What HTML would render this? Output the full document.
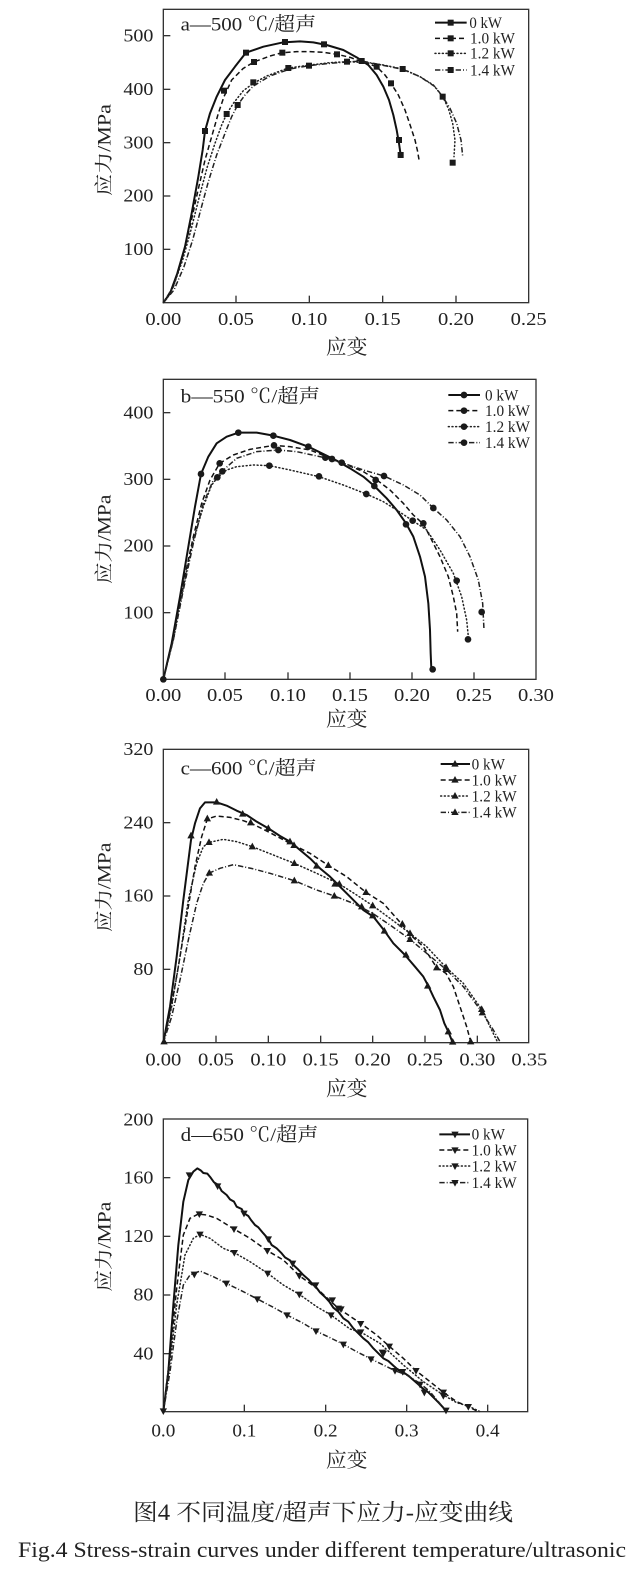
<!DOCTYPE html>
<html><head><meta charset="utf-8"><style>
html,body{margin:0;padding:0;background:#fff;}
svg{display:block;}
text{fill:#222;font-family:"Liberation Serif","Noto Serif CJK SC",serif;}
.ax{fill:none;stroke:#333;stroke-width:4;}
.tk{stroke:#333;stroke-width:4;}
.s0{fill:none;stroke:#111;stroke-width:6;stroke-linejoin:round;}
.s1{fill:none;stroke:#111;stroke-width:4.5;stroke-dasharray:15 9;stroke-linejoin:round;}
.s2{fill:none;stroke:#222;stroke-width:4.5;stroke-dasharray:3 8;stroke-linecap:round;}
.s3{fill:none;stroke:#222;stroke-width:4.5;stroke-dasharray:16 6 3 6;}
.tl{font-size:54px;}
.lg{font-size:48px;}
.tt{font-size:58px;}
.yl{font-size:56px;}
.xl{font-size:62px;}
</style></head><body>
<svg width="643" height="1571" viewBox="0 0 643 1571" xmlns="http://www.w3.org/2000/svg">
<defs>
<rect id="sq" x="-9" y="-9" width="18" height="18" fill="#1a1a1a"/>
<circle id="ci" cx="0" cy="0" r="10" fill="#1a1a1a"/>
<path id="tu" d="M0,-12 L11,8 L-11,8Z" fill="#1a1a1a"/>
<path id="td" d="M0,12 L11,-8 L-11,-8Z" fill="#1a1a1a"/>
</defs>
<rect width="643" height="1571" fill="#fff"/>

<!-- Panel a -->
<g transform="translate(90,0) scale(0.333333)">
<rect class="ax" x="220" y="28" width="1096" height="880"/>
<g class="tk">
<line x1="220" y1="107" x2="241" y2="107"/><line x1="220" y1="268" x2="241" y2="268"/><line x1="220" y1="428" x2="241" y2="428"/><line x1="220" y1="588" x2="241" y2="588"/><line x1="220" y1="748" x2="241" y2="748"/>
<line x1="438" y1="908" x2="438" y2="887"/><line x1="658" y1="908" x2="658" y2="887"/><line x1="878" y1="908" x2="878" y2="887"/><line x1="1098" y1="908" x2="1098" y2="887"/>
</g>
<g class="tl" text-anchor="end">
<text x="190" y="124" textLength="90" lengthAdjust="spacingAndGlyphs">500</text><text x="190" y="285" textLength="90" lengthAdjust="spacingAndGlyphs">400</text><text x="190" y="445" textLength="90" lengthAdjust="spacingAndGlyphs">300</text><text x="190" y="605" textLength="90" lengthAdjust="spacingAndGlyphs">200</text><text x="190" y="765" textLength="90" lengthAdjust="spacingAndGlyphs">100</text>
</g>
<g class="tl" text-anchor="middle">
<text x="220" y="975" textLength="108" lengthAdjust="spacingAndGlyphs">0.00</text><text x="438" y="975" textLength="108" lengthAdjust="spacingAndGlyphs">0.05</text><text x="658" y="975" textLength="108" lengthAdjust="spacingAndGlyphs">0.10</text><text x="878" y="975" textLength="108" lengthAdjust="spacingAndGlyphs">0.15</text><text x="1098" y="975" textLength="108" lengthAdjust="spacingAndGlyphs">0.20</text><text x="1316" y="975" textLength="108" lengthAdjust="spacingAndGlyphs">0.25</text>
</g>
<text class="xl" x="770" y="1062" text-anchor="middle" textLength="125" lengthAdjust="spacingAndGlyphs">应变</text>
<text class="yl" x="0" y="0" text-anchor="middle" textLength="275" lengthAdjust="spacingAndGlyphs" transform="translate(62,450) rotate(-90)">应力/MPa</text>
<text class="tt" x="272" y="92" textLength="406" lengthAdjust="spacingAndGlyphs">a—500 ℃/超声</text>
<polyline class="s0" points="220,908 240,880 262,820 285,740 305,640 325,530 338,450 345,393 360,340 380,290 405,240 435,200 468,158 520,140 580,127 630,124 670,127 710,135 760,150 800,172 835,195 860,225 880,260 897,300 910,345 920,390 927,430 932,465"/>
<polyline class="s1" points="220,908 250,860 275,780 300,680 322,580 345,480 365,410 385,340 402,290 425,240 460,205 492,186 540,168 577,158 620,155 660,155 700,157 741,163 780,172 815,185 860,200 885,225 903,250 925,285 945,330 962,380 975,420 983,455 988,485"/>
<polyline class="s2" points="220,908 250,860 278,780 303,690 328,590 352,500 375,430 395,375 410,342 430,310 460,272 490,250 530,228 595,204 660,195 720,188 771,185 830,188 880,195 938,207 990,230 1030,255 1058,290 1075,325 1088,370 1095,420 1092,470"/>
<polyline class="s3" points="220,908 252,870 282,800 308,720 332,630 355,545 380,465 405,400 425,350 443,315 465,285 490,258 540,228 600,207 657,197 720,190 771,186 815,183 860,192 938,208 990,230 1035,260 1058,290 1080,325 1100,370 1113,420 1118,468"/>
<g>
<use href="#sq" x="345" y="393"/><use href="#sq" x="402" y="272"/><use href="#sq" x="410" y="342"/><use href="#sq" x="443" y="315"/><use href="#sq" x="468" y="158"/><use href="#sq" x="490" y="247"/><use href="#sq" x="492" y="186"/><use href="#sq" x="577" y="158"/><use href="#sq" x="585" y="126"/><use href="#sq" x="595" y="204"/><use href="#sq" x="657" y="197"/><use href="#sq" x="702" y="133"/><use href="#sq" x="741" y="163"/><use href="#sq" x="771" y="185"/><use href="#sq" x="815" y="183"/><use href="#sq" x="860" y="200"/><use href="#sq" x="903" y="250"/><use href="#sq" x="927" y="420"/><use href="#sq" x="932" y="465"/><use href="#sq" x="938" y="207"/><use href="#sq" x="1058" y="290"/><use href="#sq" x="1088" y="488"/>
</g>
<line class="s0" x1="1035" y1="68" x2="1130" y2="68"/><use href="#sq" x="1082" y="68"/>
<line class="s1" x1="1035" y1="115" x2="1130" y2="115"/><use href="#sq" x="1082" y="115"/>
<line class="s2" x1="1035" y1="160" x2="1130" y2="160"/><use href="#sq" x="1082" y="160"/>
<line class="s3" x1="1035" y1="210" x2="1130" y2="210"/><use href="#sq" x="1082" y="210"/>
<g class="lg">
<text x="1138" y="84" textLength="98" lengthAdjust="spacingAndGlyphs">0 kW</text><text x="1140" y="131" textLength="135" lengthAdjust="spacingAndGlyphs">1.0 kW</text><text x="1140" y="176" textLength="135" lengthAdjust="spacingAndGlyphs">1.2 kW</text><text x="1140" y="226" textLength="135" lengthAdjust="spacingAndGlyphs">1.4 kW</text>
</g>
</g>

<!-- Panel b -->
<g transform="translate(90,370) scale(0.333333)">
<rect class="ax" x="220" y="28" width="1118" height="900"/>
<g class="tk">
<line x1="220" y1="128" x2="241" y2="128"/><line x1="220" y1="328" x2="241" y2="328"/><line x1="220" y1="528" x2="241" y2="528"/><line x1="220" y1="728" x2="241" y2="728"/>
<line x1="405" y1="928" x2="405" y2="907"/><line x1="594" y1="928" x2="594" y2="907"/><line x1="780" y1="928" x2="780" y2="907"/><line x1="966" y1="928" x2="966" y2="907"/><line x1="1152" y1="928" x2="1152" y2="907"/>
</g>
<g class="tl" text-anchor="end">
<text x="190" y="145" textLength="90" lengthAdjust="spacingAndGlyphs">400</text><text x="190" y="345" textLength="90" lengthAdjust="spacingAndGlyphs">300</text><text x="190" y="545" textLength="90" lengthAdjust="spacingAndGlyphs">200</text><text x="190" y="745" textLength="90" lengthAdjust="spacingAndGlyphs">100</text>
</g>
<g class="tl" text-anchor="middle">
<text x="220" y="993" textLength="108" lengthAdjust="spacingAndGlyphs">0.00</text><text x="405" y="993" textLength="108" lengthAdjust="spacingAndGlyphs">0.05</text><text x="594" y="993" textLength="108" lengthAdjust="spacingAndGlyphs">0.10</text><text x="780" y="993" textLength="108" lengthAdjust="spacingAndGlyphs">0.15</text><text x="966" y="993" textLength="108" lengthAdjust="spacingAndGlyphs">0.20</text><text x="1152" y="993" textLength="108" lengthAdjust="spacingAndGlyphs">0.25</text><text x="1338" y="993" textLength="108" lengthAdjust="spacingAndGlyphs">0.30</text>
</g>
<text class="xl" x="770" y="1068" text-anchor="middle" textLength="125" lengthAdjust="spacingAndGlyphs">应变</text>
<text class="yl" x="0" y="0" text-anchor="middle" textLength="268" lengthAdjust="spacingAndGlyphs" transform="translate(62,508) rotate(-90)">应力/MPa</text>
<text class="tt" x="272" y="97" textLength="418" lengthAdjust="spacingAndGlyphs">b—550 ℃/超声</text>
<polyline class="s0" points="220,928 245,820 270,680 295,530 315,410 333,312 355,260 380,220 410,200 445,188 500,188 550,197 600,210 655,230 700,252 740,272 780,295 820,320 853,348 890,385 920,420 948,460 970,500 990,560 1005,620 1015,700 1020,780 1022,850 1024,897"/>
<polyline class="s1" points="220,928 250,800 280,640 310,500 335,400 360,330 389,280 430,255 480,238 552,226 600,230 660,240 710,260 760,280 820,305 858,328 900,360 940,400 970,435 1000,462 1020,500 1050,560 1075,620 1090,680 1100,730 1103,785"/>
<polyline class="s2" points="220,928 250,810 280,650 310,510 340,410 365,345 383,322 410,300 440,290 490,285 538,287 600,300 687,320 760,345 829,372 880,395 920,420 968,452 1010,480 1050,540 1090,610 1115,680 1130,750 1135,800"/>
<polyline class="s3" points="220,928 250,810 280,660 310,520 340,400 370,330 397,303 440,265 500,245 565,240 620,245 700,262 755,278 820,300 882,318 940,345 990,375 1030,414 1070,450 1110,500 1140,560 1165,630 1178,700 1182,780"/>
<g>
<use href="#ci" x="220" y="928"/><use href="#ci" x="333" y="312"/><use href="#ci" x="382" y="322"/><use href="#ci" x="389" y="280"/><use href="#ci" x="397" y="304"/><use href="#ci" x="445" y="188"/><use href="#ci" x="538" y="287"/><use href="#ci" x="550" y="197"/><use href="#ci" x="552" y="226"/><use href="#ci" x="565" y="240"/><use href="#ci" x="655" y="230"/><use href="#ci" x="687" y="319"/><use href="#ci" x="706" y="263"/><use href="#ci" x="726" y="267"/><use href="#ci" x="755" y="278"/><use href="#ci" x="829" y="372"/><use href="#ci" x="853" y="348"/><use href="#ci" x="857" y="330"/><use href="#ci" x="882" y="318"/><use href="#ci" x="948" y="463"/><use href="#ci" x="968" y="452"/><use href="#ci" x="1000" y="460"/><use href="#ci" x="1030" y="414"/><use href="#ci" x="1100" y="632"/><use href="#ci" x="1134" y="808"/><use href="#ci" x="1175" y="726"/><use href="#ci" x="1028" y="898"/>
</g>
<line class="s0" x1="1075" y1="75" x2="1170" y2="75"/><use href="#ci" x="1122" y="75"/>
<line class="s1" x1="1075" y1="122" x2="1170" y2="122"/><use href="#ci" x="1122" y="122"/>
<line class="s2" x1="1075" y1="170" x2="1170" y2="170"/><use href="#ci" x="1122" y="170"/>
<line class="s3" x1="1075" y1="218" x2="1170" y2="218"/><use href="#ci" x="1122" y="218"/>
<g class="lg">
<text x="1185" y="91" textLength="100" lengthAdjust="spacingAndGlyphs">0 kW</text><text x="1185" y="138" textLength="135" lengthAdjust="spacingAndGlyphs">1.0 kW</text><text x="1185" y="186" textLength="135" lengthAdjust="spacingAndGlyphs">1.2 kW</text><text x="1185" y="234" textLength="135" lengthAdjust="spacingAndGlyphs">1.4 kW</text>
</g>
</g>

<!-- Panel c -->
<g transform="translate(90,740) scale(0.333333)">
<rect class="ax" x="220" y="28" width="1096" height="880"/>
<g class="tk">
<line x1="220" y1="248" x2="241" y2="248"/><line x1="220" y1="468" x2="241" y2="468"/><line x1="220" y1="688" x2="241" y2="688"/>
<line x1="378" y1="908" x2="378" y2="887"/><line x1="535" y1="908" x2="535" y2="887"/><line x1="692" y1="908" x2="692" y2="887"/><line x1="848" y1="908" x2="848" y2="887"/><line x1="1005" y1="908" x2="1005" y2="887"/><line x1="1162" y1="908" x2="1162" y2="887"/>
</g>
<g class="tl" text-anchor="end">
<text x="190" y="45" textLength="90" lengthAdjust="spacingAndGlyphs">320</text><text x="190" y="265" textLength="90" lengthAdjust="spacingAndGlyphs">240</text><text x="190" y="485" textLength="90" lengthAdjust="spacingAndGlyphs">160</text><text x="190" y="705" textLength="60" lengthAdjust="spacingAndGlyphs">80</text>
</g>
<g class="tl" text-anchor="middle">
<text x="220" y="977" textLength="108" lengthAdjust="spacingAndGlyphs">0.00</text><text x="378" y="977" textLength="108" lengthAdjust="spacingAndGlyphs">0.05</text><text x="535" y="977" textLength="108" lengthAdjust="spacingAndGlyphs">0.10</text><text x="692" y="977" textLength="108" lengthAdjust="spacingAndGlyphs">0.15</text><text x="848" y="977" textLength="108" lengthAdjust="spacingAndGlyphs">0.20</text><text x="1005" y="977" textLength="108" lengthAdjust="spacingAndGlyphs">0.25</text><text x="1162" y="977" textLength="108" lengthAdjust="spacingAndGlyphs">0.30</text><text x="1318" y="977" textLength="108" lengthAdjust="spacingAndGlyphs">0.35</text>
</g>
<text class="xl" x="770" y="1066" text-anchor="middle" textLength="125" lengthAdjust="spacingAndGlyphs">应变</text>
<text class="yl" x="0" y="0" text-anchor="middle" textLength="268" lengthAdjust="spacingAndGlyphs" transform="translate(62,442) rotate(-90)">应力/MPa</text>
<text class="tt" x="272" y="104" textLength="408" lengthAdjust="spacingAndGlyphs">c—600 ℃/超声</text>
<polyline class="s0" points="220,908 240,800 260,650 280,480 303,300 315,250 330,205 345,187 380,187 410,197 440,212 470,225 500,245 535,265 570,288 600,305 630,330 660,355 690,385 720,410 745,435 770,460 800,490 820,510 850,530 880,568 910,610 945,645 975,680 1000,710 1015,738 1030,770 1050,810 1063,850 1075,875 1088,908"/>
<polyline class="s1" points="220,908 240,820 265,680 290,530 315,380 335,290 352,237 380,228 420,232 460,242 490,253 540,278 600,310 660,340 715,376 770,410 828,457 880,490 935,552 962,585 1000,620 1040,683 1068,700 1090,740 1110,800 1130,860 1142,905"/>
<polyline class="s2" points="220,908 245,800 270,650 295,480 320,370 340,320 358,307 400,298 440,305 487,320 550,345 613,370 680,400 748,432 800,465 848,497 900,535 960,580 1010,620 1068,682 1120,730 1175,808 1200,860 1222,905"/>
<polyline class="s3" points="220,908 245,830 270,720 295,600 320,490 340,430 358,399 390,385 430,374 487,386 540,400 613,422 680,450 733,468 790,490 848,520 900,555 960,598 1010,640 1068,688 1120,740 1175,815 1210,870 1230,905"/>
<g>
<use href="#tu" x="222" y="905"/><use href="#tu" x="303" y="287"/><use href="#tu" x="352" y="236"/><use href="#tu" x="357" y="307"/><use href="#tu" x="358" y="399"/><use href="#tu" x="380" y="186"/><use href="#tu" x="458" y="222"/><use href="#tu" x="482" y="248"/><use href="#tu" x="487" y="320"/><use href="#tu" x="535" y="265"/><use href="#tu" x="600" y="305"/><use href="#tu" x="612" y="316"/><use href="#tu" x="613" y="370"/><use href="#tu" x="613" y="422"/><use href="#tu" x="680" y="378"/><use href="#tu" x="715" y="376"/><use href="#tu" x="735" y="432"/><use href="#tu" x="748" y="432"/><use href="#tu" x="733" y="468"/><use href="#tu" x="815" y="500"/><use href="#tu" x="828" y="457"/><use href="#tu" x="848" y="527"/><use href="#tu" x="848" y="497"/><use href="#tu" x="883" y="573"/><use href="#tu" x="937" y="552"/><use href="#tu" x="948" y="645"/><use href="#tu" x="960" y="580"/><use href="#tu" x="960" y="598"/><use href="#tu" x="1013" y="738"/><use href="#tu" x="1040" y="683"/><use href="#tu" x="1068" y="682"/><use href="#tu" x="1068" y="688"/><use href="#tu" x="1075" y="875"/><use href="#tu" x="1088" y="906"/><use href="#tu" x="1142" y="905"/><use href="#tu" x="1175" y="808"/><use href="#tu" x="1177" y="818"/>
</g>
<line class="s0" x1="1052" y1="72" x2="1140" y2="72"/><use href="#tu" x="1095" y="72"/>
<line class="s1" x1="1052" y1="120" x2="1140" y2="120"/><use href="#tu" x="1095" y="120"/>
<line class="s2" x1="1052" y1="168" x2="1140" y2="168"/><use href="#tu" x="1095" y="168"/>
<line class="s3" x1="1052" y1="217" x2="1140" y2="217"/><use href="#tu" x="1095" y="217"/>
<g class="lg">
<text x="1145" y="88" textLength="100" lengthAdjust="spacingAndGlyphs">0 kW</text><text x="1145" y="136" textLength="135" lengthAdjust="spacingAndGlyphs">1.0 kW</text><text x="1145" y="184" textLength="135" lengthAdjust="spacingAndGlyphs">1.2 kW</text><text x="1145" y="233" textLength="135" lengthAdjust="spacingAndGlyphs">1.4 kW</text>
</g>
</g>

<!-- Panel d -->
<g transform="translate(90,1105) scale(0.333333)">
<rect class="ax" x="220" y="42" width="1093" height="878"/>
<g class="tk">
<line x1="220" y1="218" x2="241" y2="218"/><line x1="220" y1="394" x2="241" y2="394"/><line x1="220" y1="570" x2="241" y2="570"/><line x1="220" y1="746" x2="241" y2="746"/>
<line x1="463" y1="920" x2="463" y2="899"/><line x1="707" y1="920" x2="707" y2="899"/><line x1="950" y1="920" x2="950" y2="899"/><line x1="1193" y1="920" x2="1193" y2="899"/>
</g>
<g class="tl" text-anchor="end">
<text x="190" y="61" textLength="90" lengthAdjust="spacingAndGlyphs">200</text><text x="190" y="235" textLength="90" lengthAdjust="spacingAndGlyphs">160</text><text x="190" y="411" textLength="90" lengthAdjust="spacingAndGlyphs">120</text><text x="190" y="587" textLength="60" lengthAdjust="spacingAndGlyphs">80</text><text x="190" y="763" textLength="60" lengthAdjust="spacingAndGlyphs">40</text>
</g>
<g class="tl" text-anchor="middle">
<text x="220" y="995" textLength="72" lengthAdjust="spacingAndGlyphs">0.0</text><text x="463" y="995" textLength="72" lengthAdjust="spacingAndGlyphs">0.1</text><text x="707" y="995" textLength="72" lengthAdjust="spacingAndGlyphs">0.2</text><text x="950" y="995" textLength="72" lengthAdjust="spacingAndGlyphs">0.3</text><text x="1193" y="995" textLength="72" lengthAdjust="spacingAndGlyphs">0.4</text>
</g>
<text class="xl" x="770" y="1086" text-anchor="middle" textLength="125" lengthAdjust="spacingAndGlyphs">应变</text>
<text class="yl" x="0" y="0" text-anchor="middle" textLength="270" lengthAdjust="spacingAndGlyphs" transform="translate(62,425) rotate(-90)">应力/MPa</text>
<text class="tt" x="272" y="108" textLength="413" lengthAdjust="spacingAndGlyphs">d—650 ℃/超声</text>
<polyline class="s0" points="220,920 235,800 250,600 265,420 280,290 295,225 310,200 322,190 332,196 340,204 352,206 362,218 372,232 385,240 395,258 410,270 420,283 432,290 440,305 455,312 462,325 475,333 483,345 495,360 505,367 520,385 535,402 545,420 560,430 575,445 585,457 600,466 610,480 625,494 640,510 655,523 670,540 677,545 690,562 705,576 718,590 730,608 745,620 760,640 775,650 790,670 805,685 820,700 835,712 850,730 865,745 880,760 895,768 910,782 925,795 940,802 955,812 970,825 985,838 1000,852 1015,862 1030,877 1045,892 1060,908 1068,920"/>
<polyline class="s1" points="220,920 240,750 260,550 280,390 300,340 325,327 350,330 380,340 432,372 480,400 532,437 580,465 628,512 680,550 745,610 812,655 860,690 898,724 940,760 978,797 1020,830 1060,862 1100,890 1135,905 1165,920"/>
<polyline class="s2" points="220,920 240,770 260,600 285,450 310,400 330,388 360,400 400,430 433,443 480,470 533,505 580,540 628,568 680,605 723,630 780,672 812,681 870,715 940,780 1000,830 1060,870 1100,893 1137,904 1170,920"/>
<polyline class="s3" points="220,920 240,800 260,650 280,540 300,510 330,498 370,515 409,535 460,560 502,582 550,607 591,630 640,655 678,678 720,698 760,718 800,740 843,762 880,780 915,797 950,810 990,835 1020,860 1045,890 1068,918"/>
<g>
<use href="#td" x="220" y="918"/><use href="#td" x="298" y="210"/><use href="#td" x="383" y="243"/><use href="#td" x="462" y="325"/><use href="#td" x="535" y="402"/><use href="#td" x="608" y="475"/><use href="#td" x="677" y="540"/><use href="#td" x="727" y="585"/><use href="#td" x="753" y="612"/><use href="#td" x="812" y="656"/><use href="#td" x="877" y="742"/><use href="#td" x="938" y="800"/><use href="#td" x="990" y="838"/><use href="#td" x="1003" y="862"/><use href="#td" x="1068" y="916"/>
<use href="#td" x="328" y="327"/><use href="#td" x="432" y="372"/><use href="#td" x="532" y="437"/><use href="#td" x="628" y="512"/><use href="#td" x="745" y="610"/><use href="#td" x="898" y="724"/><use href="#td" x="978" y="797"/><use href="#td" x="1060" y="862"/><use href="#td" x="1135" y="905"/>
<use href="#td" x="330" y="388"/><use href="#td" x="433" y="443"/><use href="#td" x="533" y="505"/><use href="#td" x="628" y="568"/><use href="#td" x="723" y="630"/><use href="#td" x="812" y="681"/><use href="#td" x="880" y="745"/><use href="#td" x="1060" y="872"/>
<use href="#td" x="313" y="508"/><use href="#td" x="409" y="535"/><use href="#td" x="502" y="582"/><use href="#td" x="591" y="630"/><use href="#td" x="678" y="678"/><use href="#td" x="760" y="718"/><use href="#td" x="843" y="762"/><use href="#td" x="915" y="797"/>
</g>
<line class="s0" x1="1048" y1="88" x2="1140" y2="88"/><use href="#td" x="1095" y="88"/>
<line class="s1" x1="1048" y1="135" x2="1140" y2="135"/><use href="#td" x="1095" y="135"/>
<line class="s2" x1="1048" y1="183" x2="1140" y2="183"/><use href="#td" x="1095" y="183"/>
<line class="s3" x1="1048" y1="233" x2="1140" y2="233"/><use href="#td" x="1095" y="233"/>
<g class="lg">
<text x="1145" y="104" textLength="100" lengthAdjust="spacingAndGlyphs">0 kW</text><text x="1145" y="151" textLength="135" lengthAdjust="spacingAndGlyphs">1.0 kW</text><text x="1145" y="199" textLength="135" lengthAdjust="spacingAndGlyphs">1.2 kW</text><text x="1145" y="249" textLength="135" lengthAdjust="spacingAndGlyphs">1.4 kW</text>
</g>
</g>

<!-- Captions -->
<text x="133" y="1520" font-size="23" textLength="380" lengthAdjust="spacingAndGlyphs">图4 不同温度/超声下应力-应变曲线</text>
<text x="18" y="1557" font-size="22" textLength="608" lengthAdjust="spacingAndGlyphs">Fig.4  Stress-strain curves under different temperature/ultrasonic</text>
</svg>
</body></html>
